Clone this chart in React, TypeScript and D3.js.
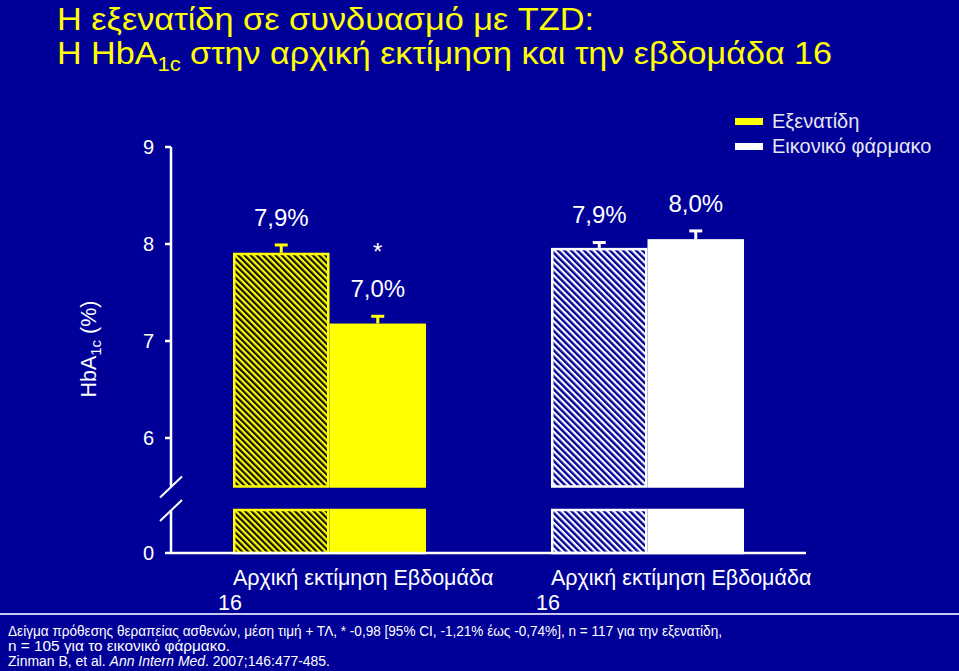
import React from "react";
import * as d3 from "d3";

const groups = ["Εξενατίδη", "Εικονικό φάρμακο"];
const timepoints = ["Αρχική εκτίμηση", "Εβδομάδα 16"];
const exenatideValues = [7.91, 7.18];
const placeboValues = [7.96, 8.05];
const exenatideErrors = [0.08, 0.075];
const placeboErrors = [0.055, 0.085];
const exenatideLabels = ["7,9%", "7,0%"];
const placeboLabels = ["7,9%", "8,0%"];
const yTicks = [6, 7, 8, 9];
const legendLabels = ["Εξενατίδη", "Εικονικό φάρμακο"];
const footnotes = [
  "Δείγμα πρόθεσης θεραπείας ασθενών, μέση τιμή + ΤΛ, * -0,98 [95% CI, -1,21% έως -0,74%], n = 117 για την εξενατίδη,",
  "n = 105 για το εικονικό φάρμακο.",
];

const BG = "#000099";
const YELLOW = "#ffff00";
const WHITE = "#ffffff";
const FONT = "'Liberation Sans', Arial, Helvetica, sans-serif";

export default function App() {
  const W = 959;
  const H = 671;
  const axisX = 171;
  const yUp = d3.scaleLinear().domain([5.5, 9]).range([486.5, 147]);
  const yLow = d3.scaleLinear().domain([0, 1]).range([553, 510]);
  const xGroup = d3
    .scaleBand<string>()
    .domain(groups)
    .range([170.5, 806.5])
    .paddingInner(0.393)
    .paddingOuter(0.1965);
  const xInner = d3
    .scaleBand<string>()
    .domain(timepoints)
    .range([0, xGroup.bandwidth()]);

  const series = [
    { key: groups[0], values: exenatideValues, errors: exenatideErrors, labels: exenatideLabels, color: YELLOW, hatch: "hatchY" },
    { key: groups[1], values: placeboValues, errors: placeboErrors, labels: placeboLabels, color: WHITE, hatch: "hatchW" },
  ];
  const bw = xInner.bandwidth();

  return (
    <svg
      width={W}
      height={H}
      style={{ position: "absolute", left: 0, top: 0, display: "block", background: BG }}
      fontFamily={FONT}
    >
      <defs>
        <pattern id="hatchY" width="4.4" height="10" patternUnits="userSpaceOnUse" patternTransform="rotate(-45)">
          <rect width="4.4" height="10" fill={YELLOW} />
          <rect width="2.2" height="10" fill="#111111" />
        </pattern>
        <pattern id="hatchW" width="4.6" height="10" patternUnits="userSpaceOnUse" patternTransform="rotate(-45)">
          <rect width="4.6" height="10" fill={WHITE} />
          <rect width="2.4" height="10" fill={BG} />
        </pattern>
      </defs>
      <rect width={W} height={H} fill={BG} />

      {/* Title */}
      <text x={57} y={30} fill={YELLOW} fontSize={31} textLength={537} lengthAdjust="spacingAndGlyphs">
        Η εξενατίδη σε συνδυασμό με TZD:
      </text>
      <g transform="translate(57,64) scale(1.1,1)">
        <text x={0} y={0} fill={YELLOW} fontSize={31}>
          Η HbA
          <tspan fontSize={20} dy={7}>1c</tspan>
          <tspan dy={-7}> στην αρχική εκτίμηση και την εβδομάδα 16</tspan>
        </text>
      </g>

      {/* Legend */}
      {legendLabels.map((l, i) => (
        <g key={l}>
          <rect x={735} y={118 + i * 25} width={28} height={7} fill={i === 0 ? YELLOW : WHITE} />
          <text x={772} y={128 + i * 25} fill="#e6e6f2" fontSize={20}>
            {l}
          </text>
        </g>
      ))}

      {/* Y axis */}
      <line x1={axisX} x2={axisX} y1={yUp(9)} y2={yUp(5.5)} stroke={WHITE} strokeWidth={2.5} />
      <line x1={axisX} x2={axisX} y1={yLow(1)} y2={yLow(0)} stroke={WHITE} strokeWidth={2.5} />
      <line x1={160} y1={yUp(5.5) + 11} x2={182} y2={yUp(5.5) - 10} stroke={WHITE} strokeWidth={2} />
      <line x1={160} y1={yLow(1) + 11} x2={182} y2={yLow(1) - 10} stroke={WHITE} strokeWidth={2} />
      {yTicks.map((t) => (
        <g key={t}>
          <line x1={165} x2={axisX} y1={yUp(t)} y2={yUp(t)} stroke={WHITE} strokeWidth={2.5} />
          <text x={154} y={yUp(t)} dy="0.36em" textAnchor="end" fill={WHITE} fontSize={20}>
            {t}
          </text>
        </g>
      ))}
      <text x={154} y={yLow(0)} dy="0.36em" textAnchor="end" fill={WHITE} fontSize={20}>
        0
      </text>
      <text transform={`translate(96,349) rotate(-90)`} textAnchor="middle" fill={WHITE} fontSize={21.5}>
        HbA
        <tspan fontSize={15} dy={5}>1c</tspan>
        <tspan dy={-5}> (%)</tspan>
      </text>

      {/* Bars */}
      {series.map((s) => {
        const gx = xGroup(s.key) as number;
        return (
          <g key={s.key}>
            {timepoints.map((tp, i) => {
              const x = gx + (xInner(tp) as number);
              const fill = i === 0 ? `url(#${s.hatch})` : s.color;
              const top = yUp(s.values[i]);
              const cap = yUp(s.values[i] + s.errors[i]);
              const cx = x + bw / 2;
              return (
                <g key={tp}>
                  <line x1={cx} x2={cx} y1={top} y2={cap} stroke={s.color} strokeWidth={3} />
                  <line x1={cx - 6.5} x2={cx + 6.5} y1={cap} y2={cap} stroke={s.color} strokeWidth={3} />
                  <rect
                    x={x + 1.25}
                    y={top + 1.25}
                    width={bw - 2.5}
                    height={yUp(5.5) - top - 1.25}
                    fill={fill}
                    stroke={s.color}
                    strokeWidth={2.5}
                  />
                  <rect
                    x={x + 1.25}
                    y={yLow(1)}
                    width={bw - 2.5}
                    height={yLow(0) - yLow(1)}
                    fill={fill}
                    stroke={s.color}
                    strokeWidth={2.5}
                  />
                  <text x={cx} y={cap - 28} dy="0.36em" textAnchor="middle" fill={WHITE} fontSize={24}>
                    {s.labels[i]}
                  </text>
                </g>
              );
            })}
          </g>
        );
      })}
      {/* significance star */}
      <text
        x={(xGroup(groups[0]) as number) + (xInner(timepoints[1]) as number) + bw / 2}
        y={yUp(exenatideValues[1] + exenatideErrors[1]) - 56}
        textAnchor="middle"
        fill={WHITE}
        fontSize={24}
      >
        *
      </text>

      {/* baseline */}
      <line x1={165} x2={806} y1={yLow(0)} y2={yLow(0)} stroke={WHITE} strokeWidth={2.5} />

      {/* X labels */}
      {groups.map((g) => {
        const gx = xGroup(g) as number;
        return (
          <g key={g}>
            <text x={gx} y={585} fill={WHITE} fontSize={21.5}>
              {timepoints[0]} Εβδομάδα
            </text>
            <text x={gx - 15} y={610} fill={WHITE} fontSize={21.5}>
              16
            </text>
          </g>
        );
      })}

      {/* separator */}
      <line x1={0} x2={W} y1={614} y2={614} stroke="#c8c8ec" strokeWidth={2} />

      {/* Footnotes */}
      <text x={8} y={636} fill={WHITE} fontSize={14} textLength={714} lengthAdjust="spacingAndGlyphs">
        {footnotes[0]}
      </text>
      <text x={8} y={651} fill={WHITE} fontSize={14} textLength={222} lengthAdjust="spacingAndGlyphs">
        {footnotes[1]}
      </text>
      <text x={8} y={666} fill={WHITE} fontSize={14} textLength={322} lengthAdjust="spacingAndGlyphs">
        Zinman B, et al. <tspan fontStyle="italic">Ann Intern Med</tspan>. 2007;146:477-485.
      </text>
    </svg>
  );
}
